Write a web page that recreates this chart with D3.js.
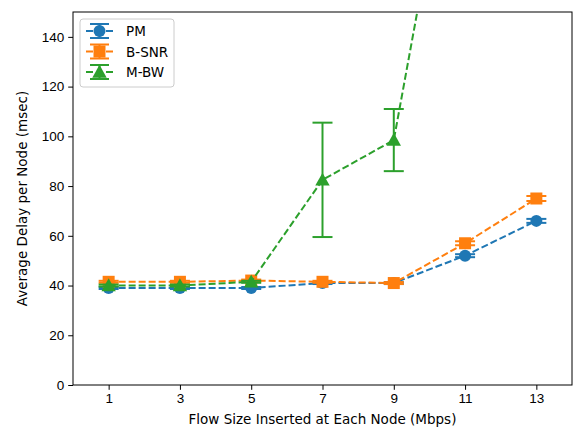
<!DOCTYPE html>
<html>
<head>
<meta charset="utf-8">
<script src="https://cdn.jsdelivr.net/npm/d3@7"></script>
<style>
  body { margin: 0; background: #fff; }
  svg { font-family: "DejaVu Sans", sans-serif; }
  .axis text { font-size: 13.5px; fill: #000; }
  .axis path, .axis line { stroke: #000; stroke-width: 1; }
</style>
</head>
<body>
<div id="chart"></div>
<script>
// Data
const flowSizes = [1, 3, 5, 7, 9, 11, 13];
const pmDelay = [39, 39, 39, 41, 41, 52, 66];
const pmErr = [0.4, 0.4, 0.4, 0.4, 0.4, 0.6, 0.8];
const bsnrDelay = [41.5, 41.5, 42, 41.5, 41, 57, 75];
const bsnrErr = [0.4, 0.4, 0.4, 0.4, 0.4, 0.8, 1];
const mbwDelay = [40, 40, 41.5, 82.5, 98.5, 255, 400];
const mbwErr = [0.4, 0.4, 0.4, 23, 12.5, 30, 40];
const yTicks = [0, 20, 40, 60, 80, 100, 120, 140];

const series = [
  { name: 'PM', values: pmDelay, err: pmErr, color: '#1f77b4', marker: 'circle' },
  { name: 'B-SNR', values: bsnrDelay, err: bsnrErr, color: '#ff7f0e', marker: 'square' },
  { name: 'M-BW', values: mbwDelay, err: mbwErr, color: '#2ca02c', marker: 'triangle' }
];

const width = 574, height = 429;
const margin = { top: 12, right: 2, bottom: 44, left: 73 };
const innerW = width - margin.left - margin.right;
const innerH = height - margin.top - margin.bottom;

const svg = d3.select('#chart').append('svg')
  .attr('width', width)
  .attr('height', height);

const x = d3.scaleLinear().domain([0, 14]).range([0, innerW]);
const y = d3.scaleLinear().domain([0, 150]).range([innerH, 0]);

svg.append('defs').append('clipPath').attr('id', 'clip')
  .append('rect').attr('width', innerW).attr('height', innerH);

const g = svg.append('g').attr('transform', `translate(${margin.left},${margin.top})`);

// Axes
g.append('g').attr('class', 'axis')
  .attr('transform', `translate(0,${innerH})`)
  .call(d3.axisBottom(x).tickValues(flowSizes).tickFormat(d3.format('d'))
    .tickSize(4.8).tickPadding(4).tickSizeOuter(0))
  .call(a => a.select('.domain').remove());

g.append('g').attr('class', 'axis')
  .call(d3.axisLeft(y).tickValues(yTicks).tickSize(4.8).tickPadding(4).tickSizeOuter(0))
  .call(a => a.select('.domain').remove());

const plot = g.append('g').attr('clip-path', 'url(#clip)');

const line = d3.line().x((d, i) => x(flowSizes[i])).y(d => y(d));
const capW = 10;
const lw = 2;

function drawMarker(sel, type, color, size) {
  if (type === 'circle') {
    sel.append('circle').attr('r', size / 2).attr('fill', color);
  } else if (type === 'square') {
    sel.append('rect').attr('x', -size / 2).attr('y', -size / 2)
      .attr('width', size).attr('height', size).attr('fill', color);
  } else {
    const s = size * 0.6;
    sel.append('path').attr('d', `M0,${-s}L${s},${s * 0.8}L${-s},${s * 0.8}Z`).attr('fill', color);
  }
}

series.forEach(s => {
  // error bars
  const eb = plot.append('g').attr('stroke', s.color).attr('stroke-width', lw);
  s.values.forEach((v, i) => {
    const cx = x(flowSizes[i]);
    const top = y(v + s.err[i]), bot = y(v - s.err[i]);
    eb.append('line').attr('x1', cx).attr('x2', cx).attr('y1', top).attr('y2', bot);
    eb.append('line').attr('x1', cx - capW).attr('x2', cx + capW).attr('y1', top).attr('y2', top);
    eb.append('line').attr('x1', cx - capW).attr('x2', cx + capW).attr('y1', bot).attr('y2', bot);
  });
  // dashed line
  plot.append('path').datum(s.values)
    .attr('d', line)
    .attr('fill', 'none')
    .attr('stroke', s.color)
    .attr('stroke-width', lw)
    .attr('stroke-dasharray', '7,3');
  // markers
  s.values.forEach((v, i) => {
    const m = plot.append('g').attr('transform', `translate(${x(flowSizes[i])},${y(v)})`);
    drawMarker(m, s.marker, s.color, 12);
  });
});

// Spines
g.append('rect').attr('width', innerW).attr('height', innerH)
  .attr('fill', 'none').attr('stroke', '#000').attr('stroke-width', 1);

// Axis labels
svg.append('text')
  .attr('x', margin.left + innerW / 2).attr('y', 424)
  .attr('text-anchor', 'middle').attr('font-size', 13.5)
  .text('Flow Size Inserted at Each Node (Mbps)');

svg.append('text')
  .attr('transform', `translate(27,${margin.top + innerH / 2}) rotate(-90)`)
  .attr('text-anchor', 'middle').attr('font-size', 13.5)
  .text('Average Delay per Node (msec)');

// Legend
const legend = g.append('g').attr('transform', 'translate(7,7)');
legend.append('rect').attr('width', 94).attr('height', 68).attr('rx', 3)
  .attr('fill', '#fff').attr('fill-opacity', 0.8)
  .attr('stroke', '#ccc').attr('stroke-width', 1);

series.forEach((s, i) => {
  const row = legend.append('g').attr('transform', `translate(0,${12 + i * 20.5})`);
  row.append('line').attr('x1', 6).attr('x2', 33).attr('stroke', s.color)
    .attr('stroke-width', lw).attr('stroke-dasharray', '7,3');
  row.append('line').attr('x1', 19.5).attr('x2', 19.5).attr('y1', -7).attr('y2', 7)
    .attr('stroke', s.color).attr('stroke-width', lw);
  [-7, 7].forEach(dy => row.append('line').attr('x1', 10).attr('x2', 29)
    .attr('y1', dy).attr('y2', dy).attr('stroke', s.color).attr('stroke-width', lw));
  const m = row.append('g').attr('transform', 'translate(19.5,0)');
  drawMarker(m, s.marker, s.color, 12);
  row.append('text').attr('x', 46).attr('y', 5).attr('font-size', 13.5).text(s.name);
});
</script>
</body>
</html>
